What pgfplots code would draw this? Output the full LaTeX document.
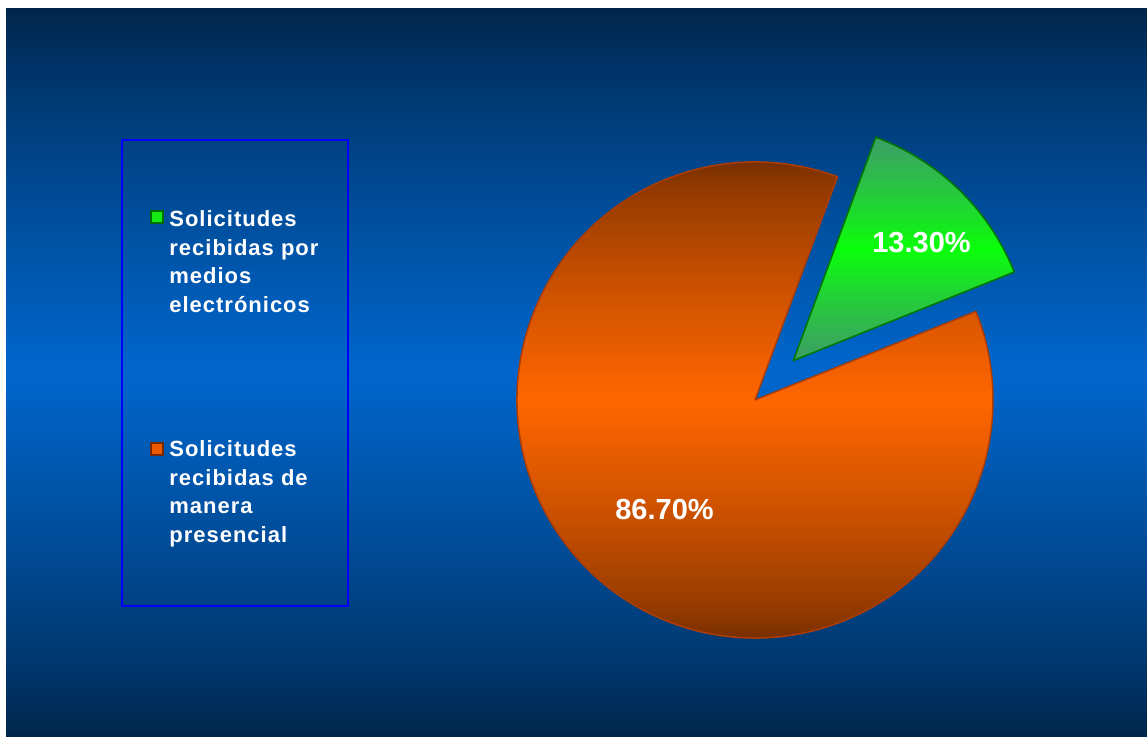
\documentclass[border=0pt]{standalone}
\usepackage{pgfplots}
\pgfplotsset{compat=1.18}
\usepackage{pgfplotstable}
\usepackage{fontspec}
\setmainfont{Liberation Sans}
\newfontfamily\legfont[LetterSpace=4.5]{Liberation Sans}

\definecolor{bgdark}{RGB}{0,36,72}
\definecolor{bgmid}{RGB}{0,102,204}
\definecolor{orgdark}{RGB}{118,46,0}
\definecolor{orgmid}{RGB}{255,102,0}
\definecolor{orgline}{RGB}{175,60,0}
\definecolor{grndark}{RGB}{60,160,100}
\definecolor{grnmid}{RGB}{10,255,10}
\definecolor{grnline}{RGB}{0,120,0}
\definecolor{legline}{RGB}{0,0,255}

\pgfplotstableread{
label value
electronicos 13.3
presencial 86.7
}\piedata

\begin{document}
\begin{tikzpicture}
\pgfplotstablegetelem{0}{value}\of\piedata \let\va\pgfplotsretval
\pgfplotstablegetelem{1}{value}\of\piedata \let\vb\pgfplotsretval
\pgfmathsetmacro\gs{21.85}
\pgfmathsetmacro\ge{\gs+3.6*\va}
\pgfmathsetmacro\oe{\ge+3.6*\vb}
\pgfmathsetmacro\gm{(\gs+\ge)/2}
\pgfmathsetmacro\gx{755+55*cos(\gm)}
\pgfmathsetmacro\gy{337+55*sin(\gm)}
\pgfmathsetmacro\gh{119*sin(\ge)}
\pgfmathsetmacro\gsh{\gh/112}
% colour ramps for the slice gradients
\pgfplotsforeachungrouped \i in {0,...,237} {%
  \pgfmathsetmacro\ss{(\i+0.5)/238}%
  \pgfmathsetmacro\pp{100*(1-abs(2*\ss-1))^0.75}%
  \colorlet{og\i}{orgmid!\pp!orgdark}%
}
\pgfplotsforeachungrouped \i in {0,...,111} {%
  \pgfmathsetmacro\ss{(\i+0.5)/112}%
  \pgfmathsetmacro\pp{100*(1-abs(2*\ss-1))^1.2}%
  \colorlet{gs\i}{grnmid!\pp!grndark}%
}
% background
\fill[white] (0,0) rectangle (573.5pt,368.5pt);
\begin{scope}
  \clip (3pt,0) rectangle (573.5pt,364pt);
  \foreach \i in {0,...,181} {
    \pgfmathsetmacro\ss{(\i+0.5)/182}
    \pgfmathsetmacro\pp{100*(1-abs(2*\ss-1))^0.8}
    \colorlet{bgc}{bgmid!\pp!bgdark}
    \fill[bgc] (3pt,\i*2pt) rectangle (573.5pt,\i*2pt+2.3pt);
  }
\end{scope}
\begin{axis}[
  scale only axis, width=573.5pt, height=368.5pt,
  xmin=0, xmax=1147, ymin=0, ymax=737,
  hide axis, clip=false, at={(0,0)}, anchor=south west]
  % legend box
  \draw[legline, line width=1pt] (axis cs:122,131) rectangle (axis cs:348,597);
  \filldraw[fill={rgb,255:red,20;green,235;blue,20}, draw={rgb,255:red,0;green,110;blue,0}, line width=0.6pt]
     (axis cs:151,514) rectangle (axis cs:163,526);
  \filldraw[fill={rgb,255:red,235;green,90;blue,0}, draw={rgb,255:red,120;green,40;blue,0}, line width=0.6pt]
     (axis cs:151,282) rectangle (axis cs:163,294);
  \begin{scope}[every node/.style={anchor=base west, text=white, inner sep=0pt,
      font=\legfont\bfseries\fontsize{11}{13}\selectfont}]
    \node at (axis cs:169,510) {Solicitudes};
    \node at (axis cs:169,481.5) {recibidas por};
    \node at (axis cs:169,453) {medios};
    \node at (axis cs:169,424.5) {electrónicos};
    \node at (axis cs:169,280) {Solicitudes};
    \node at (axis cs:169,251.5) {recibidas de};
    \node at (axis cs:169,223) {manera};
    \node at (axis cs:169,194.5) {presencial};
  \end{scope}
  % orange slice
  \begin{scope}
    \clip (axis cs:755,337) -- ++(\ge:119pt) arc[start angle=\ge, end angle=\oe, radius=119pt] -- cycle;
    \pgfplotsinvokeforeach{0,...,237}{
      \fill[og#1] ([yshift={#1*1pt}]axis cs:500,99) rectangle ([yshift={#1*1pt+1.4pt}]axis cs:1010,99);
    }
  \end{scope}
  \draw[orgline, line width=0.75pt, line join=round]
     (axis cs:755,337) -- ++(\ge:119pt) arc[start angle=\ge, end angle=\oe, radius=119pt] -- cycle;
  % green slice
  \begin{scope}
    \clip (axis cs:\gx,\gy) -- ++(\gs:119pt) arc[start angle=\gs, end angle=\ge, radius=119pt] -- cycle;
    \pgfplotsinvokeforeach{0,...,111}{
      \fill[gs#1] ([yshift={#1*\gsh*1pt}]axis cs:780,\gy) rectangle ([yshift={(#1+1)*\gsh*1pt+0.4pt}]axis cs:1030,\gy);
    }
  \end{scope}
  \draw[grnline, line width=0.75pt, line join=round]
     (axis cs:\gx,\gy) -- ++(\gs:119pt) arc[start angle=\gs, end angle=\ge, radius=119pt] -- cycle;
  \node[text=white, font=\bfseries\fontsize{14.5}{16}\selectfont] at (axis cs:921.5,494) {13.30\%};
  \node[text=white, font=\bfseries\fontsize{14.5}{16}\selectfont] at (axis cs:664.5,227) {86.70\%};
\end{axis}
\end{tikzpicture}
\end{document}
